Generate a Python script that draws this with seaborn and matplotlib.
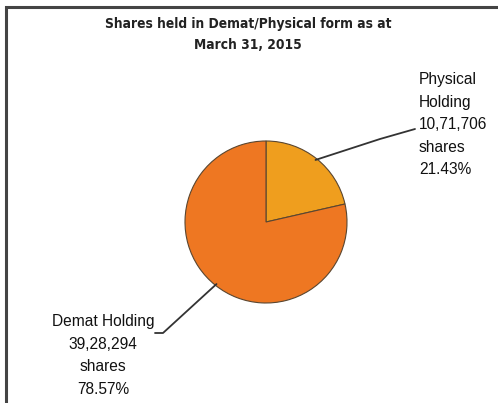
import numpy as np
import matplotlib
matplotlib.use("Agg")
import matplotlib.pyplot as plt
import seaborn as sns

# ---- data ----
categories = ["Physical Holding", "Demat Holding"]
shares = [1071706, 3928294]
share_labels = ["10,71,706", "39,28,294"]
percents = ["21.43%", "78.57%"]
title_lines = ["Shares held in Demat/Physical form as at", "March 31, 2015"]

sns.set_theme(style="white")
plt.rcParams["font.family"] = ["Liberation Sans", "DejaVu Sans"]

W, H = 498, 403
fig = plt.figure(figsize=(W / 100, H / 100), dpi=100)
ax = fig.add_axes([0, 0, 1, 1])

def py(y):
    return H - y

cx, cy, r = 266, py(222), 81
colors = ["#EF9E1E", "#EE7722"]
wedges, _ = ax.pie(shares, colors=colors, startangle=90, counterclock=False,
                   center=(cx, cy), radius=r, frame=True,
                   wedgeprops=dict(edgecolor="#5a4630", linewidth=0.8))
ax.set_xlim(0, W)
ax.set_ylim(0, H)
ax.set_aspect("equal")
ax.axis("off")

# leader lines from wedge mid-angles
def edge_point(w, f=1.0):
    ang = np.deg2rad((w.theta1 + w.theta2) / 2)
    return cx + f * r * np.cos(ang), cy + f * r * np.sin(ang)

p0 = edge_point(wedges[0], 0.98)
ax.plot([p0[0], 380, 415], [p0[1], py(139), py(129)], color="#333333", lw=1.3,
        solid_capstyle="round")
p1 = edge_point(wedges[1], 0.98)
ax.plot([p1[0], 163, 155], [p1[1], py(333), py(333)], color="#333333", lw=1.3,
        solid_capstyle="round")

fs = 11.2
ax.text(419, py(72), "Physical\nHolding\n%s\nshares\n%s" % (share_labels[0], percents[0]),
        ha="left", va="top", fontsize=fs, color="#111111", linespacing=1.63)
ax.text(103, py(314), "Demat Holding\n%s\nshares\n%s" % (share_labels[1], percents[1]),
        ha="center", va="top", multialignment="center", fontsize=fs,
        color="#111111", linespacing=1.63)

# title
tfam = ["DejaVu Sans"]
ax.text(248, py(24), title_lines[0], ha="center", va="center", fontsize=9.9,
        fontweight="bold", family=tfam, fontstretch="condensed", color="#222222")
ax.text(248, py(45), title_lines[1], ha="center", va="center", fontsize=9.9,
        fontweight="bold", family=tfam, fontstretch="condensed", color="#222222")

# frame
ax.plot([5.5, 5.5, W], [0, py(6.5), py(6.5)], color="#444444", lw=2.2,
        clip_on=False, solid_joinstyle="miter")

fig.savefig("out.png", dpi=100)
